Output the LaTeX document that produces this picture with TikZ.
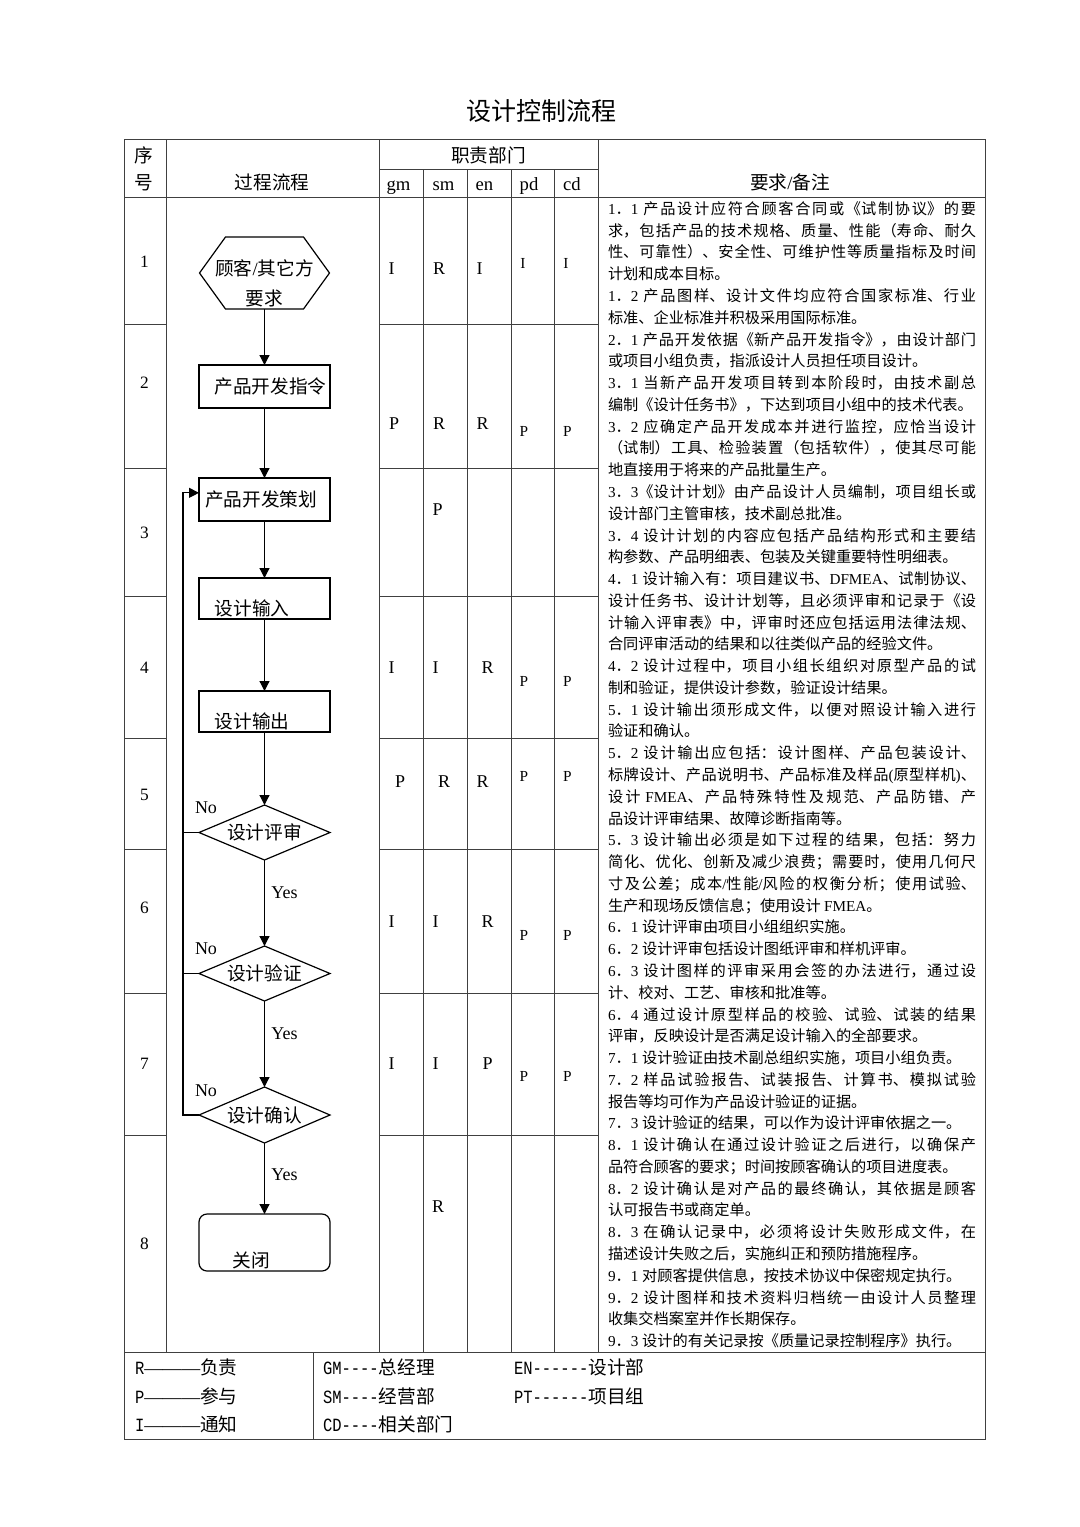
\documentclass[tikz,border=0pt]{standalone}
\usepackage{fontspec}
\usepackage{tikz}
\usetikzlibrary{arrows.meta, positioning, shapes.geometric}

\setmainfont{Liberation Serif}
\newfontfamily\cjkfont{Noto Sans CJK SC}
\newfontfamily\latnormal{Liberation Serif}
\newfontfamily\latnarrow[FakeStretch=0.83]{Liberation Mono}
\newcommand\latsw{\latnormal}

% Chinese characters in the CJK font, everything else in the Latin one
\XeTeXinterchartokenstate=1
\newXeTeXintercharclass\cjkcls
\newXeTeXintercharclass\dashcls
\newcount\cjkchar
\cjkchar="2E80
\loop\XeTeXcharclass\cjkchar=\cjkcls \advance\cjkchar by 1 \ifnum\cjkchar<"A000 \repeat
\cjkchar="FF00
\loop\XeTeXcharclass\cjkchar=\cjkcls \advance\cjkchar by 1 \ifnum\cjkchar<"FFF0 \repeat
\XeTeXcharclass"2014=\dashcls
\XeTeXinterchartoks 0 \cjkcls={\cjkfont}
\XeTeXinterchartoks 4095 \cjkcls={\cjkfont}
\XeTeXinterchartoks \dashcls \cjkcls={\cjkfont}
\XeTeXinterchartoks \cjkcls 0={\latsw}
\XeTeXinterchartoks 4095 0={\latsw}
\XeTeXinterchartoks \dashcls 0={\latsw}
\XeTeXinterchartoks 0 \dashcls={\latnormal}
\XeTeXinterchartoks 4095 \dashcls={\latnormal}
\XeTeXinterchartoks \cjkcls \dashcls={\latnormal}
\XeTeXlinebreaklocale "zh"
\XeTeXlinebreakskip=0pt plus 2pt
\tolerance=10000
\hbadness=10000

\begin{document}
\begin{tikzpicture}[>={Triangle[length=7.5pt,width=7.5pt]}, x=0.75pt, y=-0.75pt,
    rule/.style={draw=black!75, line width=0.6pt},
    txt/.style={inner sep=0pt, outer sep=0pt},
    head/.style={txt, font=\fontsize{14}{16}\selectfont},
    rownum/.style={txt, font=\fontsize{13}{15}\selectfont},
    role/.style={txt, font=\fontsize{13.5}{15}\selectfont},
    minor/.style={txt, font=\fontsize{11.5}{13}\selectfont},
    stepbox/.style={draw, line width=0.9pt, minimum width=98.25pt, inner sep=0pt, outer sep=0pt, font=\fontsize{14}{16}\selectfont},
    check/.style={diamond, aspect=2.4, draw, line width=0.9pt, minimum width=98.25pt, minimum height=41.25pt, inner sep=0pt, outer sep=0pt, font=\fontsize{14}{16}\selectfont},
    flow/.style={->, line width=0.9pt},
    answer/.style={txt, font=\fontsize{13.5}{15}\selectfont},
    legend/.style={txt, anchor=west, font={\fontsize{14}{16}\selectfont\renewcommand\latsw{\latnarrow}}},
  ]
  \fill[white] (0,0) rectangle (1080,1527);

  \node[txt, font=\fontsize{18.75}{20}\selectfont] (title) at (541,111) {设计控制流程};

  % table grid
  \draw[rule] (124,139) rectangle (985,1352);
  \draw[rule] (166,139) -- (166,1352) (379,139) -- (379,1352) (598,139) -- (598,1352);
  \draw[rule] (379,169) -- (598,169);
  \draw[rule] (124,197) -- (985,197);
  \foreach \x in {423,467,511,554}
    \draw[rule] (\x,169) -- (\x,1352);
  \foreach \y in {324,468,596,738,849,993,1135}
    \draw[rule] (124,\y) -- (166,\y) (379,\y) -- (598,\y);
  \draw[rule] (124,1352) rectangle (985,1439);
  \draw[rule] (313,1352) -- (313,1439);

  % header
  \node[head] (seq-a) at (144,155) {序};
  \node[head] (seq-b) at (144,182.5) {号};
  \node[head] (proc) at (272,182) {过程流程};
  \node[head] (dept) at (488.5,155) {职责部门};
  \foreach \x/\d in {398.5/gm,443.5/sm,484.5/en,529/pd,572/cd}
    \node[head, anchor=base] (h-\d) at (\x,190) {\d};
  \node[head] (notes) at (790,182) {要求/备注};

  \foreach \n/\y in {1/262,2/382.5,3/532.5,4/668,5/794.5,6/907.5,7/1063.5,8/1244}
    \node[rownum] (seq-\n) at (144.5,\y) {\n};

  % responsibilities
  \foreach \x/\y/\r [count=\i] in {391.5/269/I,439/269/R,479.5/269/I,
      394/424/P,439/424/R,482.5/424/R, 437.5/510/P,
      391.5/668/I,435.5/668/I,487.5/668/R, 400/782/P,444/782/R,482.5/782/R,
      391.5/921.5/I,435.5/921.5/I,487.5/921.5/R, 391.5/1064/I,435.5/1064/I,487.5/1064/P,
      438/1207/R}
    \node[role] (role-\i) at (\x,\y) {\r};
  \foreach \x/\y/\r [count=\i] in {523/263/I,566/263/I, 524/431.5/P,567.5/431.5/P,
      524/681/P,567.5/681/P, 524/776.5/P,567.5/776.5/P, 524/935/P,567.5/935/P,
      524/1076.5/P,567.5/1076.5/P}
    \node[minor] (sub-\i) at (\x,\y) {\r};

  % process flow
  \node[txt, minimum width=97.5pt, minimum height=54pt, align=center, font=\fontsize{14}{22.5}\selectfont] (req) at (264.5,273)
    {\raisebox{-7.5pt}[\height][\depth]{顾客/其它方}\\\raisebox{-7.5pt}[\height][\depth]{要求}};
  \draw[line width=0.9pt] (req.west) -- ([xshift=19.5pt]req.north west) -- ([xshift=-19.5pt]req.north east)
    -- (req.east) -- ([xshift=-19.5pt]req.south east) -- ([xshift=19.5pt]req.south west) -- cycle;
  \node[stepbox, minimum height=32.25pt] (order) at (264.5,386.5) {\hspace*{9pt}产品开发指令};
  \node[stepbox, minimum height=32.25pt] (plan) at (264.5,499.5) {产品开发策划\hspace*{5pt}};
  \node[stepbox, minimum height=30.75pt, text height=24.8pt, text depth=0pt] (input) at (264.5,598.5) {设计输入\hspace*{18.75pt}};
  \node[stepbox, minimum height=30.75pt, text height=25.6pt, text depth=0pt] (output) at (264.5,711.5) {设计输出\hspace*{18.75pt}};
  \node[check] (review) at (264.5,832.5) {设计评审};
  \node[check] (verify) at (264.5,973.5) {设计验证};
  \node[check, minimum height=42pt] (confirm) at (264.5,1115) {设计确认};
  \node[stepbox, rounded corners=6pt, minimum height=42.75pt, text height=36.8pt, text depth=0pt] (close) at (264.5,1242.5) {关闭\hspace*{19.5pt}};

  \draw[flow] (req) -- (order);
  \draw[flow] (order) -- (plan);
  \draw[flow] (plan) -- (input);
  \draw[flow] (input) -- (output);
  \draw[flow] (output) -- (review);
  \draw[flow] (review) -- (verify);
  \draw[flow] (verify) -- (confirm);
  \draw[flow] (confirm) -- (close);

  \draw[flow] (confirm.west) -- ++(-16,0) coordinate (back) |- ([yshift=5pt]plan.west);
  \draw[line width=0.9pt] (review.west) -- (review.west -| back);
  \draw[line width=0.9pt] (verify.west) -- (verify.west -| back);

  \node[answer] (no-a) at (206,807.5) {No};
  \node[answer] (no-b) at (206,949) {No};
  \node[answer] (no-c) at (206,1090.5) {No};
  \node[answer] (yes-a) at (284.5,892.5) {Yes};
  \node[answer] (yes-b) at (284.5,1034) {Yes};
  \node[answer] (yes-c) at (284.5,1175) {Yes};

  % requirements / remarks
  \node[txt, anchor=north west, text width=276pt, align=justify, font=\fontsize{11.4}{16.33}\selectfont] (remarks) at (608,201.5) {%
1．1 产品设计应符合顾客合同或《试制协议》的要\linebreak%
求，包括产品的技术规格、质量、性能（寿命、耐久\linebreak%
性、可靠性）、安全性、可维护性等质量指标及时间\linebreak%
计划和成本目标。\par
1．2 产品图样、设计文件均应符合国家标准、行业\linebreak%
标准、企业标准并积极采用国际标准。\par
2．1 产品开发依据《新产品开发指令》，由设计部门\linebreak%
或项目小组负责，指派设计人员担任项目设计。\par
3．1 当新产品开发项目转到本阶段时，由技术副总\linebreak%
编制《设计任务书》，下达到项目小组中的技术代表。\par
3．2 应确定产品开发成本并进行监控，应恰当设计\linebreak%
（试制）工具、检验装置（包括软件），使其尽可能\linebreak%
地直接用于将来的产品批量生产。\par
3．3《设计计划》由产品设计人员编制，项目组长或\linebreak%
设计部门主管审核，技术副总批准。\par
3．4 设计计划的内容应包括产品结构形式和主要结\linebreak%
构参数、产品明细表、包装及关键重要特性明细表。\par
4．1 设计输入有：项目建议书、DFMEA、试制协议、\linebreak%
设计任务书、设计计划等，且必须评审和记录于《设\linebreak%
计输入评审表》中，评审时还应包括运用法律法规、\linebreak%
合同评审活动的结果和以往类似产品的经验文件。\par
4．2 设计过程中，项目小组长组织对原型产品的试\linebreak%
制和验证，提供设计参数，验证设计结果。\par
5．1 设计输出须形成文件，以便对照设计输入进行\linebreak%
验证和确认。\par
5．2 设计输出应包括：设计图样、产品包装设计、\linebreak%
标牌设计、产品说明书、产品标准及样品(原型样机)、\linebreak%
设计 FMEA、产品特殊特性及规范、产品防错、产\linebreak%
品设计评审结果、故障诊断指南等。\par
5．3 设计输出必须是如下过程的结果，包括：努力\linebreak%
简化、优化、创新及减少浪费；需要时，使用几何尺\linebreak%
寸及公差；成本/性能/风险的权衡分析；使用试验、\linebreak%
生产和现场反馈信息；使用设计 FMEA。\par
6．1 设计评审由项目小组组织实施。\par
6．2 设计评审包括设计图纸评审和样机评审。\par
6．3 设计图样的评审采用会签的办法进行，通过设\linebreak%
计、校对、工艺、审核和批准等。\par
6．4 通过设计原型样品的校验、试验、试装的结果\linebreak%
评审，反映设计是否满足设计输入的全部要求。\par
7．1 设计验证由技术副总组织实施，项目小组负责。\par
7．2 样品试验报告、试装报告、计算书、模拟试验\linebreak%
报告等均可作为产品设计验证的证据。\par
7．3 设计验证的结果，可以作为设计评审依据之一。\par
8．1 设计确认在通过设计验证之后进行，以确保产\linebreak%
品符合顾客的要求；时间按顾客确认的项目进度表。\par
8．2 设计确认是对产品的最终确认，其依据是顾客\linebreak%
认可报告书或商定单。\par
8．3 在确认记录中，必须将设计失败形成文件，在\linebreak%
描述设计失败之后，实施纠正和预防措施程序。\par
9．1 对顾客提供信息，按技术协议中保密规定执行。\par
9．2 设计图样和技术资料归档统一由设计人员整理\linebreak%
收集交档案室并作长期保存。\par
9．3 设计的有关记录按《质量记录控制程序》执行。};

  % legend
  \node[legend] (leg-r) at (135,1367.5) {R———负责};
  \node[legend] (leg-p) at (135,1396) {P———参与};
  \node[legend] (leg-i) at (135,1424.5) {I———通知};
  \node[legend] (leg-gm) at (323,1367.5) {GM----总经理};
  \node[legend] (leg-sm) at (323,1396) {SM----经营部};
  \node[legend] (leg-cd) at (323,1424.5) {CD----相关部门};
  \node[legend] (leg-en) at (514,1367.5) {EN------设计部};
  \node[legend] (leg-pt) at (514,1396) {PT------项目组};
\end{tikzpicture}
\end{document}
